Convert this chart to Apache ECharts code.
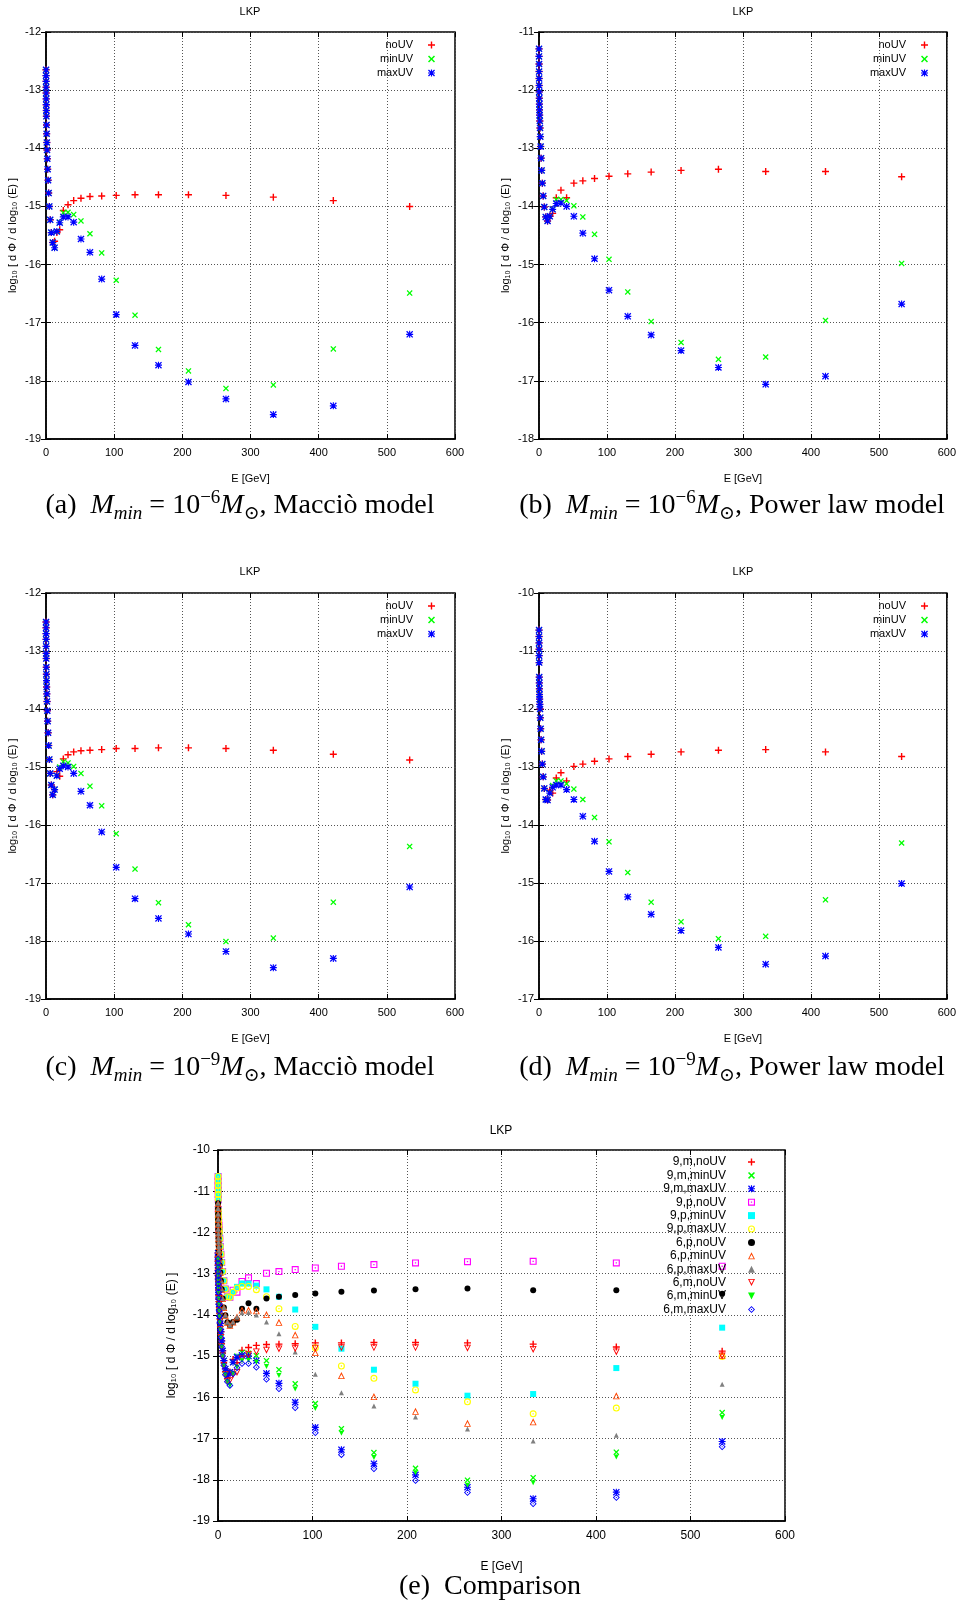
<!DOCTYPE html>
<html>
<head>
<meta charset="utf-8">
<title>LKP</title>
<script src="https://cdn.jsdelivr.net/npm/echarts@6/dist/echarts.min.js"></script>
<style>
html, body { margin: 0; padding: 0; background: #fff; }
#chart { width: 959px; height: 1606px; }
</style>
</head>
<body>
<div id="chart"></div>
<script>
// energy bins in GeV (same for every curve)
const energy = [0.09, 0.11, 0.14, 0.18, 0.23, 0.29, 0.37, 0.47, 0.59, 0.75, 0.95, 1.2, 1.52, 1.93, 2.44, 3.1, 3.9, 4.9, 6.2, 7.8, 9.9, 12.6, 15.9, 20.1, 25.4, 32.3, 40.6, 51.3, 64.5, 81.7, 103, 130.6, 165, 209, 264, 333.5, 421.5, 533.5];

// (a) Mmin = 1e-6, Maccio model  -> "6,m"
const m6NoUV = [-12.65, -12.75, -12.85, -12.95, -13.05, -13.15, -13.25, -13.35, -13.45, -13.6, -13.75, -13.9, -14.03, -14.18, -14.36, -14.55, -14.77, -15.0, -15.23, -15.45, -15.62, -15.60, -15.45, -15.40, -15.07, -14.97, -14.90, -14.86, -14.83, -14.82, -14.81, -14.80, -14.80, -14.80, -14.81, -14.84, -14.90, -15.00];
const m6MinUV = [-12.65, -12.75, -12.85, -12.95, -13.05, -13.15, -13.25, -13.35, -13.45, -13.6, -13.75, -13.9, -14.03, -14.18, -14.36, -14.55, -14.77, -15.0, -15.23, -15.45, -15.62, -15.71, -15.43, -15.27, -15.11, -15.10, -15.14, -15.25, -15.47, -15.80, -16.27, -16.87, -17.46, -17.83, -18.13, -18.07, -17.45, -16.49];
const m6MaxUV = [-12.65, -12.75, -12.85, -12.95, -13.05, -13.15, -13.25, -13.35, -13.45, -13.6, -13.75, -13.9, -14.03, -14.18, -14.36, -14.55, -14.77, -15.0, -15.23, -15.45, -15.62, -15.71, -15.43, -15.28, -15.18, -15.18, -15.27, -15.56, -15.79, -16.25, -16.86, -17.39, -17.73, -18.02, -18.31, -18.58, -18.43, -17.20];

// (b) Mmin = 1e-6, power law -> "6,p"
const p6NoUV = [-11.29, -11.42, -11.55, -11.68, -11.8, -11.92, -12.03, -12.14, -12.24, -12.34, -12.43, -12.53, -12.65, -12.80, -12.97, -13.17, -13.38, -13.60, -13.82, -14.01, -14.18, -14.25, -14.17, -14.12, -13.85, -13.72, -13.85, -13.60, -13.56, -13.52, -13.48, -13.44, -13.41, -13.38, -13.36, -13.40, -13.40, -13.49];
const p6MinUV = [-11.29, -11.42, -11.55, -11.68, -11.8, -11.92, -12.03, -12.14, -12.24, -12.34, -12.43, -12.53, -12.65, -12.80, -12.97, -13.17, -13.38, -13.60, -13.82, -14.01, -14.18, -14.25, -14.17, -14.05, -13.88, -13.88, -13.90, -13.99, -14.18, -14.48, -14.91, -15.47, -15.98, -16.34, -16.63, -16.59, -15.96, -14.98];
const p6MaxUV = [-11.29, -11.42, -11.55, -11.68, -11.8, -11.92, -12.03, -12.14, -12.24, -12.34, -12.43, -12.53, -12.65, -12.80, -12.97, -13.17, -13.38, -13.60, -13.82, -14.01, -14.18, -14.25, -14.17, -14.05, -13.95, -13.94, -14.0, -14.17, -14.46, -14.90, -15.44, -15.89, -16.21, -16.48, -16.77, -17.06, -16.92, -15.68];

// (c) Mmin = 1e-9, Maccio model -> "9,m"
const m9NoUV = [-12.5, -12.6, -12.7, -12.8, -12.92, -13.04, -13.13, -13.28, -13.4, -13.51, -13.62, -13.74, -13.87, -14.03, -14.21, -14.41, -14.63, -14.87, -15.11, -15.31, -15.48, -15.39, -15.08, -15.16, -14.86, -14.79, -14.74, -14.72, -14.71, -14.70, -14.68, -14.68, -14.67, -14.67, -14.68, -14.71, -14.78, -14.88];
const m9MinUV = [-12.5, -12.6, -12.7, -12.8, -12.92, -13.04, -13.13, -13.28, -13.4, -13.51, -13.62, -13.74, -13.87, -14.03, -14.21, -14.41, -14.63, -14.87, -15.11, -15.31, -15.48, -15.39, -15.15, -15.0, -14.91, -14.93, -14.99, -15.11, -15.33, -15.67, -16.15, -16.76, -17.34, -17.72, -18.01, -17.95, -17.33, -16.37];
const m9MaxUV = [-12.5, -12.6, -12.7, -12.8, -12.92, -13.04, -13.13, -13.28, -13.4, -13.51, -13.62, -13.74, -13.87, -14.03, -14.21, -14.41, -14.63, -14.87, -15.11, -15.31, -15.48, -15.39, -15.15, -15.03, -14.98, -15.0, -15.11, -15.42, -15.66, -16.12, -16.73, -17.27, -17.61, -17.88, -18.18, -18.46, -18.30, -17.07];

// (d) Mmin = 1e-9, power law -> "9,p"
const p9NoUV = [-10.64, -10.75, -10.86, -10.97, -11.08, -11.2, -11.45, -11.55, -11.65, -11.75, -11.83, -11.92, -12.0, -12.15, -12.34, -12.53, -12.73, -12.95, -13.17, -13.37, -13.56, -13.57, -13.40, -13.45, -13.19, -13.10, -13.24, -12.99, -12.95, -12.90, -12.86, -12.82, -12.78, -12.74, -12.71, -12.70, -12.74, -12.82];
const p9MinUV = [-10.64, -10.75, -10.86, -10.97, -11.08, -11.2, -11.45, -11.55, -11.65, -11.75, -11.83, -11.92, -12.0, -12.15, -12.34, -12.53, -12.73, -12.95, -13.17, -13.37, -13.56, -13.57, -13.45, -13.32, -13.24, -13.24, -13.29, -13.38, -13.56, -13.87, -14.29, -14.82, -15.33, -15.67, -15.96, -15.92, -15.29, -14.31];
const p9MaxUV = [-10.64, -10.75, -10.86, -10.97, -11.08, -11.2, -11.45, -11.55, -11.65, -11.75, -11.83, -11.92, -12.0, -12.15, -12.34, -12.53, -12.73, -12.95, -13.17, -13.37, -13.56, -13.57, -13.45, -13.35, -13.31, -13.31, -13.39, -13.56, -13.85, -14.28, -14.80, -15.24, -15.54, -15.82, -16.11, -16.40, -16.26, -15.01];

const xTicks = [0, 100, 200, 300, 400, 500, 600];
const yRanges = [[-19, -12], [-18, -11], [-19, -12], [-17, -10], [-19, -10]];

// gnuplot-like point shapes
const PLUS = 'path://M4,0H6V4H10V6H6V10H4V6H0V4H4Z';
const CROSS = 'path://M0,1.5L1.5,0L5,3.5L8.5,0L10,1.5L6.5,5L10,8.5L8.5,10L5,6.5L1.5,10L0,8.5L3.5,5Z';
const STAR = 'path://M4.2,0H5.8V4.2H10V5.8H5.8V10H4.2V5.8H0V4.2H4.2Z M0,1.3L1.3,0L5,3.7L8.7,0L10,1.3L6.3,5L10,8.7L8.7,10L5,6.3L1.3,10L0,8.7L3.7,5Z';
const OSQUARE = 'path://M0,0H10V10H0Z M1.6,1.6V8.4H8.4V1.6Z M4.1,4.1H5.9V5.9H4.1Z';
const OCIRCLE = 'path://M5,0A5,5 0 1,1 5,10A5,5 0 1,1 5,0Z M5,1.6A3.4,3.4 0 1,0 5,8.4A3.4,3.4 0 1,0 5,1.6Z M4.1,4.1H5.9V5.9H4.1Z';
const OTRI = 'path://M5,0L10,10H0Z M5,3.2L1.9,8.9H8.1Z';
const OTRIDOWN = 'path://M0,0H10L5,10Z M1.9,1.1L5,6.8L8.1,1.1Z';
const TRIDOWN = 'path://M0,0H10L5,10Z';
const ODIAMOND = 'path://M5,0L10,5L5,10L0,5Z M5,1.8L1.8,5L5,8.2L8.2,5Z M4.3,4.3H5.7V5.7H4.3Z';

const narrow = "'Liberation Sans Narrow', 'Liberation Sans', Arial, sans-serif";
const sans = "'Liberation Sans', Arial, sans-serif";
const serif = "'Liberation Serif', 'DejaVu Serif', serif";

const grids = [
    { left: 46, top: 32, width: 409, height: 407 },
    { left: 539, top: 32, width: 409, height: 407 },
    { left: 46, top: 593, width: 409, height: 406 },
    { left: 539, top: 593, width: 409, height: 406 },
    { left: 218, top: 1150, width: 567, height: 371 }
];

function pts(ys) {
    return energy.map(function (e, i) { return [e, ys[i]]; });
}

function pointSeries(name, gi, ys, symbol, size, color) {
    return {
        name: name,
        type: 'scatter',
        xAxisIndex: gi,
        yAxisIndex: gi,
        data: pts(ys),
        symbol: symbol,
        symbolSize: size,
        itemStyle: { color: color, opacity: 1 },
        emphasis: { disabled: true },
        animation: false
    };
}

const panelData = [
    [m6NoUV, m6MinUV, m6MaxUV],
    [p6NoUV, p6MinUV, p6MaxUV],
    [m9NoUV, m9MinUV, m9MaxUV],
    [p9NoUV, p9MinUV, p9MaxUV]
];

let series = [];
panelData.forEach(function (d, gi) {
    series.push(pointSeries('noUV', gi, d[0], PLUS, 7, '#ff0000'));
    series.push(pointSeries('minUV', gi, d[1], CROSS, 6, '#00ff00'));
    series.push(pointSeries('maxUV', gi, d[2], STAR, 7, '#0000ff'));
});

// comparison panel
const compare = [
    ['9,m,noUV', m9NoUV, PLUS, 7, '#ff0000'],
    ['9,m,minUV', m9MinUV, CROSS, 6, '#00ff00'],
    ['9,m,maxUV', m9MaxUV, STAR, 7, '#0000ff'],
    ['9,p,noUV', p9NoUV, OSQUARE, 7, '#ff00ff'],
    ['9,p,minUV', p9MinUV, 'rect', 6, '#00ffff'],
    ['9,p,maxUV', p9MaxUV, OCIRCLE, 7, '#ffff00'],
    ['6,p,noUV', p6NoUV, 'circle', 6, '#000000'],
    ['6,p,minUV', p6MinUV, OTRI, 7, '#ff4500'],
    ['6,p,maxUV', p6MaxUV, 'triangle', 5, '#808080'],
    ['6,m,noUV', m6NoUV, OTRIDOWN, 7, '#ff0000'],
    ['6,m,minUV', m6MinUV, TRIDOWN, 5, '#00ff00'],
    ['6,m,maxUV', m6MaxUV, ODIAMOND, 7, '#0000ff']
];
compare.forEach(function (c) {
    series.push(pointSeries(c[0], 4, c[1], c[2], c[3], c[4]));
});

const yName = 'log\u2081\u2080 [ d \u03a6 / d log\u2081\u2080 (E) ]';
const dotted = { show: true, lineStyle: { color: '#555', type: [1, 2], width: 1 } };

const xAxes = grids.map(function (g, i) {
    const big = i === 4;
    return {
        type: 'value', gridIndex: i, min: xTicks[0], max: xTicks[xTicks.length - 1], interval: 100,
        name: 'E [GeV]', nameLocation: 'middle', nameGap: big ? 40 : 34,
        nameTextStyle: { color: '#000', fontSize: big ? 12 : 11, fontFamily: big ? sans : narrow },
        axisLine: { lineStyle: { color: '#000', width: 1.5 } },
        axisTick: { inside: true, length: 5, lineStyle: { color: '#000' } },
        axisLabel: { color: '#000', fontSize: big ? 12 : 11, fontFamily: big ? sans : narrow, margin: big ? 9 : 8 },
        splitLine: dotted
    };
});

const yAxes = grids.map(function (g, i) {
    const big = i === 4;
    return {
        type: 'value', gridIndex: i, min: yRanges[i][0], max: yRanges[i][1], interval: 1,
        name: yName, nameLocation: 'middle', nameGap: big ? 40 : 28,
        nameTextStyle: { color: '#000', fontSize: big ? 12 : 11, fontFamily: big ? sans : narrow },
        axisLine: { lineStyle: { color: '#000', width: 1.5 } },
        axisTick: { inside: true, length: 5, lineStyle: { color: '#000' } },
        axisLabel: { color: '#000', fontSize: big ? 12 : 11, fontFamily: big ? sans : narrow, margin: big ? 8 : 5 },
        splitLine: dotted
    };
});

// mirrored ticks on the top and right borders, like gnuplot
grids.forEach(function (g, i) {
    xAxes.push({
        type: 'value', gridIndex: i, position: 'top', min: xTicks[0], max: xTicks[xTicks.length - 1], interval: 100,
        axisLine: { show: false }, axisLabel: { show: false }, splitLine: { show: false },
        axisTick: { inside: true, length: 5, lineStyle: { color: '#000' } }
    });
    yAxes.push({
        type: 'value', gridIndex: i, position: 'right', min: yRanges[i][0], max: yRanges[i][1], interval: 1,
        axisLine: { show: false }, axisLabel: { show: false }, splitLine: { show: false },
        axisTick: { inside: true, length: 5, lineStyle: { color: '#000' } }
    });
});

function smallLegend(right, top) {
    return {
        data: ['noUV', 'minUV', 'maxUV'], orient: 'vertical', align: 'right',
        right: right, top: top, padding: 0, itemGap: 2, itemWidth: 7, itemHeight: 7,
        selectedMode: false,
        textStyle: { color: '#000', fontSize: 11, fontFamily: narrow, lineHeight: 12, padding: [0, 10, 0, 0] }
    };
}

const captionRich = {
    t: { fontSize: 28, fontFamily: serif, lineHeight: 34, fill: '#000' },
    i: { fontSize: 28, fontFamily: serif, fontStyle: 'italic', lineHeight: 34, fill: '#000' },
    s: { fontSize: 19, fontFamily: serif, fontStyle: 'italic', lineHeight: 24, verticalAlign: 'bottom', fill: '#000' },
    u: { fontSize: 19, fontFamily: serif, lineHeight: 18, verticalAlign: 'top', fill: '#000' }
};

function caption(x, y, tag, exp, model) {
    return {
        type: 'text', x: x, y: y,
        style: {
            text: '{t|(' + tag + ')  }{i|M}{s|min}{t| = 10}{u|\u2212' + exp + '}{i|M}{s|\u2299}{t|, ' + model + '}',
            rich: captionRich, align: 'center', verticalAlign: 'middle'
        }
    };
}

function lkp(x, y, size) {
    return {
        type: 'text', x: x, y: y,
        style: { text: 'LKP', fontSize: size, fontFamily: narrow, fill: '#000', align: 'center', verticalAlign: 'middle' }
    };
}

const option = {
    backgroundColor: '#fff',
    animation: false,
    grid: grids.map(function (g) {
        return Object.assign({ show: true, borderColor: '#000', borderWidth: 1.5, backgroundColor: 'transparent' }, g);
    }),
    xAxis: xAxes,
    yAxis: yAxes,
    legend: [
        smallLegend(524, 39),
        smallLegend(31, 39),
        smallLegend(524, 600),
        smallLegend(31, 600),
        {
            data: compare.map(function (c) { return c[0]; }), orient: 'vertical', align: 'right',
            right: 204, top: 1156, padding: 0, itemGap: 1.4, itemWidth: 7, itemHeight: 7,
            selectedMode: false,
            textStyle: { color: '#000', fontSize: 12, fontFamily: sans, lineHeight: 11, padding: [0, 17, 0, 0] }
        }
    ],
    graphic: [
        lkp(250, 12, 11), lkp(743, 12, 11), lkp(250, 572, 11), lkp(743, 572, 11), lkp(501, 1131, 12),
        caption(240, 506, 'a', '6', 'Macci\u00f2 model'),
        caption(732, 506, 'b', '6', 'Power law model'),
        caption(240, 1068, 'c', '9', 'Macci\u00f2 model'),
        caption(732, 1068, 'd', '9', 'Power law model'),
        {
            type: 'text', x: 490, y: 1587,
            style: { text: '(e)  Comparison', fontSize: 28, fontFamily: serif, fill: '#000', align: 'center', verticalAlign: 'middle' }
        }
    ],
    series: series
};

const chart = echarts.init(document.getElementById('chart'), null, { renderer: 'canvas' });
chart.setOption(option);
window.addEventListener('resize', function () {
    chart.resize();
});
</script>
</body>
</html>
